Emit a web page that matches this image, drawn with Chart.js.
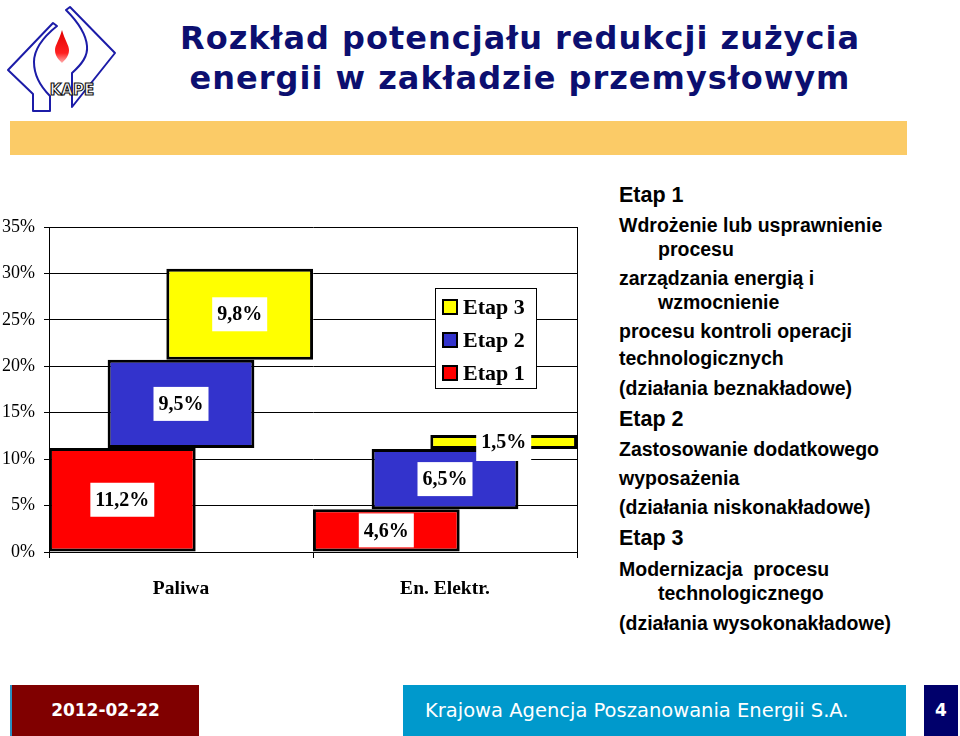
<!DOCTYPE html>
<html lang="pl">
<head>
<meta charset="utf-8">
<title>Rozkład potencjału redukcji zużycia energii</title>
<script src="https://cdn.jsdelivr.net/npm/chart.js@4.4.1/dist/chart.umd.min.js"></script>
<style>
  html, body { margin: 0; padding: 0; background: #fff; }
  #slide { position: relative; width: 960px; height: 736px; overflow: hidden; background: #fff; }
  #logo { position: absolute; left: 0; top: 0; }
  #title {
    position: absolute; left: 150px; top: 18px; width: 740px; text-align: center;
    font-family: "DejaVu Sans", Verdana, sans-serif; font-weight: bold; font-size: 32px;
    letter-spacing: 1px; line-height: 40px; color: #0c0f70;
  }
  #band { position: absolute; left: 10px; top: 121px; width: 897px; height: 34px; background: #fbcb67; }
  #chartBox { position: absolute; left: 0; top: 200px; width: 600px; height: 410px; }
  #notes { position: absolute; left: 0; top: 0; font-family: "Liberation Sans", Arial, sans-serif; color: #000; }
  #notes div { position: absolute; white-space: pre; height: 24px; line-height: 24px; }
  #notes .h { font-size: 21.5px; font-weight: bold; }
  #notes .b { font-size: 19.5px; font-weight: bold; }
  .foot { position: absolute; top: 685px; height: 51px; line-height: 51px; color: #fff; text-align: center; }
  #fdate { left: 10px; width: 187px; background: #800000; border-left: 2px solid #2a8fc0;
    font-family: "DejaVu Sans", Tahoma, sans-serif; font-weight: bold; font-size: 17px; }
  #forg { left: 403px; width: 481px; padding-left: 22px; text-align: left; background: #0099cc;
    font-family: "DejaVu Sans", Tahoma, sans-serif; font-size: 19.5px; }
  #fpage { left: 924px; width: 34px; background: #00006b;
    font-family: "DejaVu Sans", Tahoma, sans-serif; font-weight: bold; font-size: 17px; }
</style>
</head>
<body>
<div id="slide">
  <svg id="logo" width="125" height="118" viewBox="0 0 125 118">
    <defs>
      <linearGradient id="flame" x1="0" y1="0" x2="0" y2="1">
        <stop offset="0" stop-color="#e00000"/>
        <stop offset="0.7" stop-color="#ff2020"/>
        <stop offset="1" stop-color="#ffb0b0"/>
      </linearGradient>
    </defs>
    <g fill="none" stroke="#1c1ca8" stroke-width="2" stroke-linejoin="round">
      <path d="M53,23 L8,70 L33,94 L33,111 L50,111 L50,96 C40,86 34,76 34,62 C34,50 42,38 57,26 Z"/>
      <path d="M70,7 L115,53 L72,107 L72,73 C82,64 88,56 87,46 C86,34 78,22 66,10 Z"/>
    </g>
    <path d="M62,30 C59,41 55,45 55,50 C55,56 59,60 62,63 C65,60 69,56 69,50 C69,45 65,41 62,30 Z" fill="url(#flame)"/>
    <text x="72" y="95" text-anchor="middle" font-family="DejaVu Sans, sans-serif" font-weight="bold"
          font-size="15" fill="#fff" stroke="#111" stroke-width="1.1">KAPE</text>
  </svg>
  <div id="title">Rozkład potencjału redukcji zużycia<br>energii w zakładzie przemysłowym</div>
  <div id="band"></div>
  <div id="chartBox"><canvas id="chart" width="600" height="410"></canvas></div>
  <div id="notes"></div>
  <div id="fdate" class="foot">2012-02-22</div>
  <div id="forg" class="foot">Krajowa Agencja Poszanowania Energii S.A.</div>
  <div id="fpage" class="foot">4</div>
</div>
<script>
// values
const categories = ['Paliwa', 'En. Elektr.'];
const seriesNames = ['Etap 1', 'Etap 2', 'Etap 3'];
const etap1 = [11.2, 4.6];
const etap2 = [9.5, 6.5];
const etap3 = [9.8, 1.5];
const seriesColors = ['#ff0000', '#3333cc', '#ffff00'];
const yMax = 35;
const yStep = 5;

// right-hand description, [text, style, indent, centre y]
const noteLines = [
  ['Etap 1', 'h', 0, 195],
  ['Wdrożenie lub usprawnienie', 'b', 0, 225],
  ['procesu', 'b', 39, 249],
  ['zarządzania energią i', 'b', 0, 278],
  ['wzmocnienie', 'b', 39, 302],
  ['procesu kontroli operacji', 'b', 0, 331],
  ['technologicznych', 'b', 0, 358],
  ['(działania beznakładowe)', 'b', 0, 388],
  ['Etap 2', 'h', 0, 419],
  ['Zastosowanie dodatkowego', 'b', 0, 449],
  ['wyposażenia', 'b', 0, 478],
  ['(działania niskonakładowe)', 'b', 0, 507],
  ['Etap 3', 'h', 0, 538],
  ['Modernizacja  procesu', 'b', 0, 569],
  ['technologicznego', 'b', 39, 593],
  ['(działania wysokonakładowe)', 'b', 0, 623]
];

const notes = document.getElementById('notes');
noteLines.forEach(([text, cls, indent, cy]) => {
  const el = document.createElement('div');
  el.className = cls;
  el.textContent = text;
  el.style.left = (619 + indent) + 'px';
  el.style.top = (cy - 12) + 'px';
  notes.appendChild(el);
});

const segments = [etap1, etap2, etap3];
const fmt = (v) => v.toFixed(1).replace('.', ',') + '%';

const datasets = segments.map((vals, s) => ({
  label: seriesNames[s],
  values: vals,
  data: vals.map((v, i) => {
    let start = 0;
    for (let k = 0; k < s; k++) start += segments[k][i];
    return [start, start + v];
  }),
  backgroundColor: seriesColors[s],
  borderColor: '#000',
  borderWidth: 3,
  borderSkipped: false
}));

const valueLabels = {
  id: 'valueLabels',
  afterDatasetsDraw(chart) {
    const ctx = chart.ctx;
    ctx.save();
    ctx.font = 'bold 20px "Liberation Serif", "Times New Roman", serif';
    ctx.textAlign = 'center';
    ctx.textBaseline = 'middle';
    chart.data.datasets.forEach((ds, d) => {
      chart.getDatasetMeta(d).data.forEach((bar, i) => {
        const txt = fmt(ds.values[i]);
        const cy = (bar.y + bar.base) / 2;
        const w = ctx.measureText(txt).width + 10;
        const tall = Math.abs(bar.base - bar.y) > 34;
        const h = tall ? 34 : 27;
        const top = tall ? cy - h / 2 : bar.y - 1;
        ctx.fillStyle = '#fff';
        ctx.fillRect(bar.x - w / 2, top, w, h);
        ctx.fillStyle = '#000';
        ctx.fillText(txt, bar.x, cy + 1);
      });
    });
    ctx.restore();
  }
};

const boxLegend = {
  id: 'boxLegend',
  afterDraw(chart) {
    const ctx = chart.ctx;
    const a = chart.chartArea;
    const left = a.right - 142, top = a.top + 61, w = 101, h = 100;
    ctx.save();
    ctx.fillStyle = '#fff';
    ctx.fillRect(left, top, w, h);
    ctx.strokeStyle = '#000';
    ctx.lineWidth = 1;
    ctx.strokeRect(left + 0.5, top + 0.5, w, h);
    ctx.font = 'bold 22px "Liberation Serif", "Times New Roman", serif';
    ctx.textBaseline = 'middle';
    ctx.textAlign = 'left';
    const items = chart.data.datasets.slice().reverse();
    items.forEach((ds, k) => {
      const cy = top + 19 + k * 33;
      ctx.fillStyle = ds.backgroundColor;
      ctx.fillRect(left + 8, cy - 7, 14, 14);
      ctx.lineWidth = 2;
      ctx.strokeRect(left + 8, cy - 7, 14, 14);
      ctx.fillStyle = '#000';
      ctx.fillText(ds.label, left + 28, cy + 1);
    });
    ctx.restore();
  }
};

new Chart(document.getElementById('chart'), {
  type: 'bar',
  data: { labels: categories, datasets },
  options: {
    responsive: false,
    animation: false,
    events: [],
    categoryPercentage: 0.667,
    barPercentage: 2.5,
    layout: { padding: { top: 27, right: 23, left: 0, bottom: 0 } },
    plugins: { legend: { display: false }, tooltip: { enabled: false } },
    scales: {
      x: {
        offset: true,
        grid: {
          offset: true,
          color: (c) => (c.type === 'scale' ? '#000' : 'rgba(0,0,0,0)'),
          tickColor: '#000',
          tickLength: 6,
          lineWidth: 1
        },
        border: { color: '#000', width: 1 },
        ticks: {
          color: '#000',
          padding: 19,
          font: { family: '"Liberation Serif", "Times New Roman", serif', size: 19.5, weight: 'bold' }
        },
        afterFit: (s) => { s.height = 58; }
      },
      y: {
        min: 0,
        max: yMax,
        grid: { color: '#000', tickColor: '#000', tickLength: 5, lineWidth: 1 },
        border: { color: '#000', width: 1 },
        ticks: {
          stepSize: yStep,
          color: '#000',
          padding: 9,
          font: { family: '"Liberation Serif", "Times New Roman", serif', size: 18 },
          callback: (v) => v + '%'
        },
        afterFit: (s) => { s.width = 49; }
      }
    }
  },
  plugins: [valueLabels, boxLegend]
});
</script>
</body>
</html>
